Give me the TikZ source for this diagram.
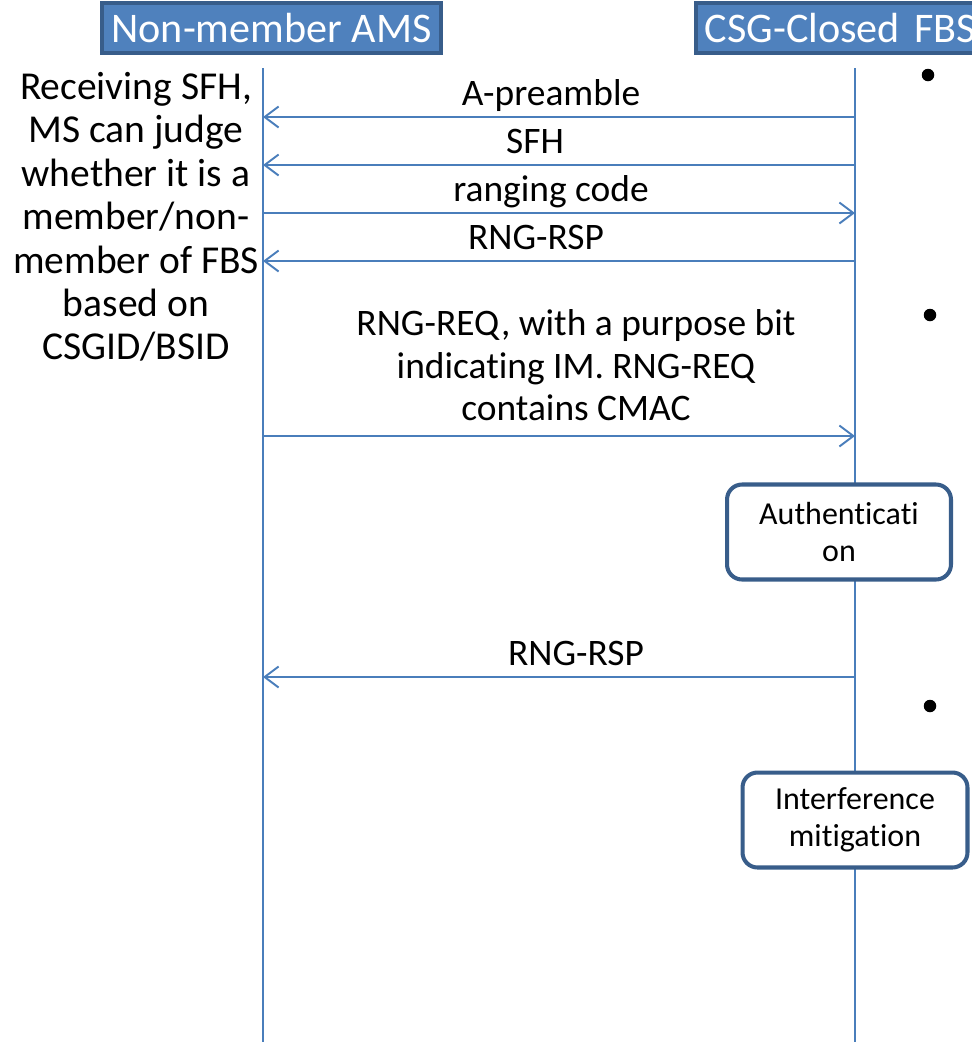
\documentclass[tikz,border=0pt]{standalone}
\usepackage{fontspec}
\setmainfont{Carlito}[Ligatures=NoCommon]
\usetikzlibrary{arrows.meta}

\definecolor{hdrfill}{HTML}{4F81BD}
\definecolor{hdrline}{HTML}{385D8A}
\definecolor{lifeblue}{HTML}{4A7EBB}

\begin{document}
\begin{tikzpicture}[x=0.02cm,y=-0.02cm,>={Straight Barb[length=0.28cm,width=0.42cm]},
        actor node/.style={rectangle,draw=hdrline,fill=hdrfill,line width=2pt,text=white,
            font=\fontsize{24}{28}\selectfont,inner xsep=0.18cm,minimum height=1cm},
        task node/.style={rectangle,rounded corners=0.3cm,draw=hdrline,fill=white,line width=2.3pt,
            minimum width=4.48cm,minimum height=1.9cm,align=center,font=\fontsize{18.2}{21}\selectfont},
        life line/.style={draw=lifeblue,line width=1.1pt},
        msg/.style={->,draw=lifeblue,line width=1.1pt},
        msg label/.style={above=6pt,inner sep=0pt,text depth=0pt,font=\fontsize{21.3}{24.2}\selectfont},
        dot node/.style={circle,fill=black,inner sep=0pt,minimum size=0.25cm}]

        \useasboundingbox (0,0) rectangle (971,1042);

        \node[actor node,minimum width=6.78cm] (ams) at (271.5,28) {Non-member AMS};
        \node[actor node,anchor=west,text width=6cm,align=left] (fbs) at (694,28) {CSG-Closed FBS};

        \coordinate (amstop) at (263,68);
        \coordinate (amsend) at (263,1042);
        \coordinate (fbstop) at (855,68);
        \coordinate (fbsend) at (855,1042);
        \draw[life line] (amstop) -- (amsend);
        \draw[life line] (fbstop) -- (fbsend);

        \node[align=center,font=\fontsize{22.5}{24.7}\selectfont] (note) at (136,217)
            {Receiving SFH,\\MS can judge\\whether it is a\\member/non-\\member of FBS\\based on\\CSGID/BSID};

        % messages
        \coordinate (ams1) at (263,117);  \coordinate (fbs1) at (855,117);
        \coordinate (ams2) at (263,165);  \coordinate (fbs2) at (855,165);
        \coordinate (ams3) at (263,213);  \coordinate (fbs3) at (855,213);
        \coordinate (ams4) at (263,261);  \coordinate (fbs4) at (855,261);
        \coordinate (ams5) at (263,436);  \coordinate (fbs5) at (855,436);
        \coordinate (ams6) at (263,677);  \coordinate (fbs6) at (855,677);

        \draw[msg] (fbs1) -- node[msg label,xshift=-0.16cm] {A-preamble} (ams1);
        \draw[msg] (fbs2) -- node[msg label,xshift=-0.48cm] {SFH} (ams2);
        \draw[msg] (ams3) -- node[msg label,xshift=-0.16cm] {ranging code} (fbs3);
        \draw[msg] (fbs4) -- node[msg label,xshift=-0.46cm] {RNG-RSP} (ams4);
        \draw[msg] (ams5) -- node[msg label,above=2pt,align=center,xshift=0.34cm]
            {RNG-REQ, with a purpose bit\\indicating IM. RNG-REQ\\contains CMAC} (fbs5);
        \draw[msg] (fbs6) -- node[msg label,xshift=0.34cm] {RNG-RSP} (ams6);

        \node[task node] (auth) at (839,532) {Authenticati\\on};
        \node[task node,minimum width=4.5cm] (mitig) at (855,820) {Interference\\mitigation};

        \node[dot node] (dot1) at (928,75) {};
        \node[dot node] (dot2) at (930,315) {};
        \node[dot node] (dot3) at (930,706) {};
\end{tikzpicture}
\end{document}
